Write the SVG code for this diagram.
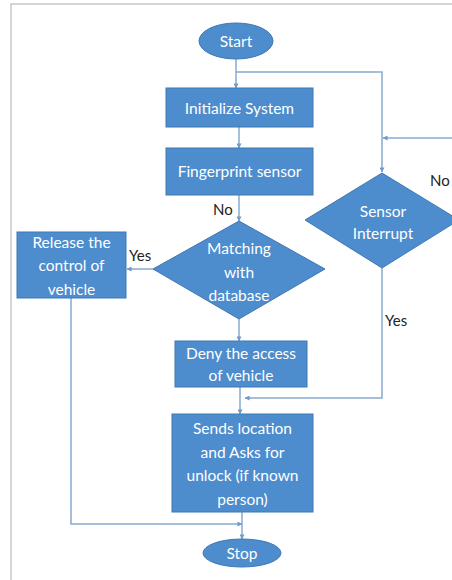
<svg xmlns="http://www.w3.org/2000/svg" width="452" height="580" viewBox="0 0 452 580">
<defs>
<marker id="ah" viewBox="0 0 6 6" refX="5.5" refY="3" markerWidth="5" markerHeight="5" orient="auto" markerUnits="userSpaceOnUse">
<path d="M0,0 L6,3 L0,6 z" fill="#6f9cc8"/>
</marker>
</defs>
<style>
.sh{fill:#4d8ccd;stroke:#3f78b3;stroke-width:1}
.t{font-family:Lato,"Open Sans","Liberation Sans",sans-serif;font-size:15.5px;fill:#ffffff;text-anchor:middle;dominant-baseline:central}
.l{font-family:Lato,"Open Sans","Liberation Sans",sans-serif;font-size:15px;fill:#222222;dominant-baseline:central}
.c{fill:none;stroke:#86abd0;stroke-width:1.5}
.ca{fill:none;stroke:#86abd0;stroke-width:1.5;marker-end:url(#ah)}
</style>
<rect width="452" height="580" fill="#ffffff"/>
<path d="M11,580 L11,4 L452,4" fill="none" stroke="#c8c8c8" stroke-width="1.5"/>
<g id="connectors">
<path class="ca" d="M236,59 L236,88"/>
<path class="ca" d="M236,72 L382,72 L382,172"/>
<path class="ca" d="M452,138 L383,138"/>
<path class="ca" d="M239,127 L239,148"/>
<path class="ca" d="M239,195 L239,221"/>
<path class="ca" d="M153,269 L127,269"/>
<path class="ca" d="M239,319 L239,341"/>
<path class="ca" d="M240,387 L240,414"/>
<path class="ca" d="M382,268 L382,398 L245,398"/>
<path class="ca" d="M242,512 L242,539"/>
<path class="ca" d="M71,298 L71,524 L242,524"/>
</g>
<g id="start"><ellipse class="sh" cx="236" cy="41" rx="37" ry="18"/><text class="t" x="236" y="41">Start</text></g>
<g id="init"><rect class="sh" x="166" y="88" width="147" height="39"/><text class="t" x="239.5" y="107.5">Initialize System</text></g>
<g id="fingerprint"><rect class="sh" x="166" y="148" width="147" height="47"/><text class="t" x="239.5" y="171">Fingerprint sensor</text></g>
<g id="match"><polygon class="sh" points="239,221 325,269 239,319 153,269"/><text class="t" x="239" y="248">Matching</text><text class="t" x="239" y="272">with</text><text class="t" x="239" y="295">database</text></g>
<g id="sensor"><polygon class="sh" points="382,173 459,220 382,268 305,220"/><text class="t" x="383" y="211">Sensor</text><text class="t" x="383" y="233">Interrupt</text></g>
<g id="release"><rect class="sh" x="17" y="232" width="109" height="66"/><text class="t" x="71.5" y="242">Release the</text><text class="t" x="71.5" y="265">control of</text><text class="t" x="71.5" y="289">vehicle</text></g>
<g id="deny"><rect class="sh" x="175" y="341" width="132" height="46"/><text class="t" x="241" y="353">Deny the access</text><text class="t" x="241" y="375">of vehicle</text></g>
<g id="sends"><rect class="sh" x="172" y="414" width="141" height="98"/><text class="t" x="242.5" y="428">Sends location</text><text class="t" x="242.5" y="452">and Asks for</text><text class="t" x="242.5" y="475">unlock (if known</text><text class="t" x="242.5" y="499">person)</text></g>
<g id="stop"><ellipse class="sh" cx="242" cy="553" rx="39" ry="14"/><text class="t" x="242" y="553">Stop</text></g>
<g id="labels">
<text class="l" x="213" y="209">No</text>
<text class="l" x="430" y="180">No</text>
<text class="l" x="129" y="255">Yes</text>
<text class="l" x="385" y="320">Yes</text>
</g>
</svg>
